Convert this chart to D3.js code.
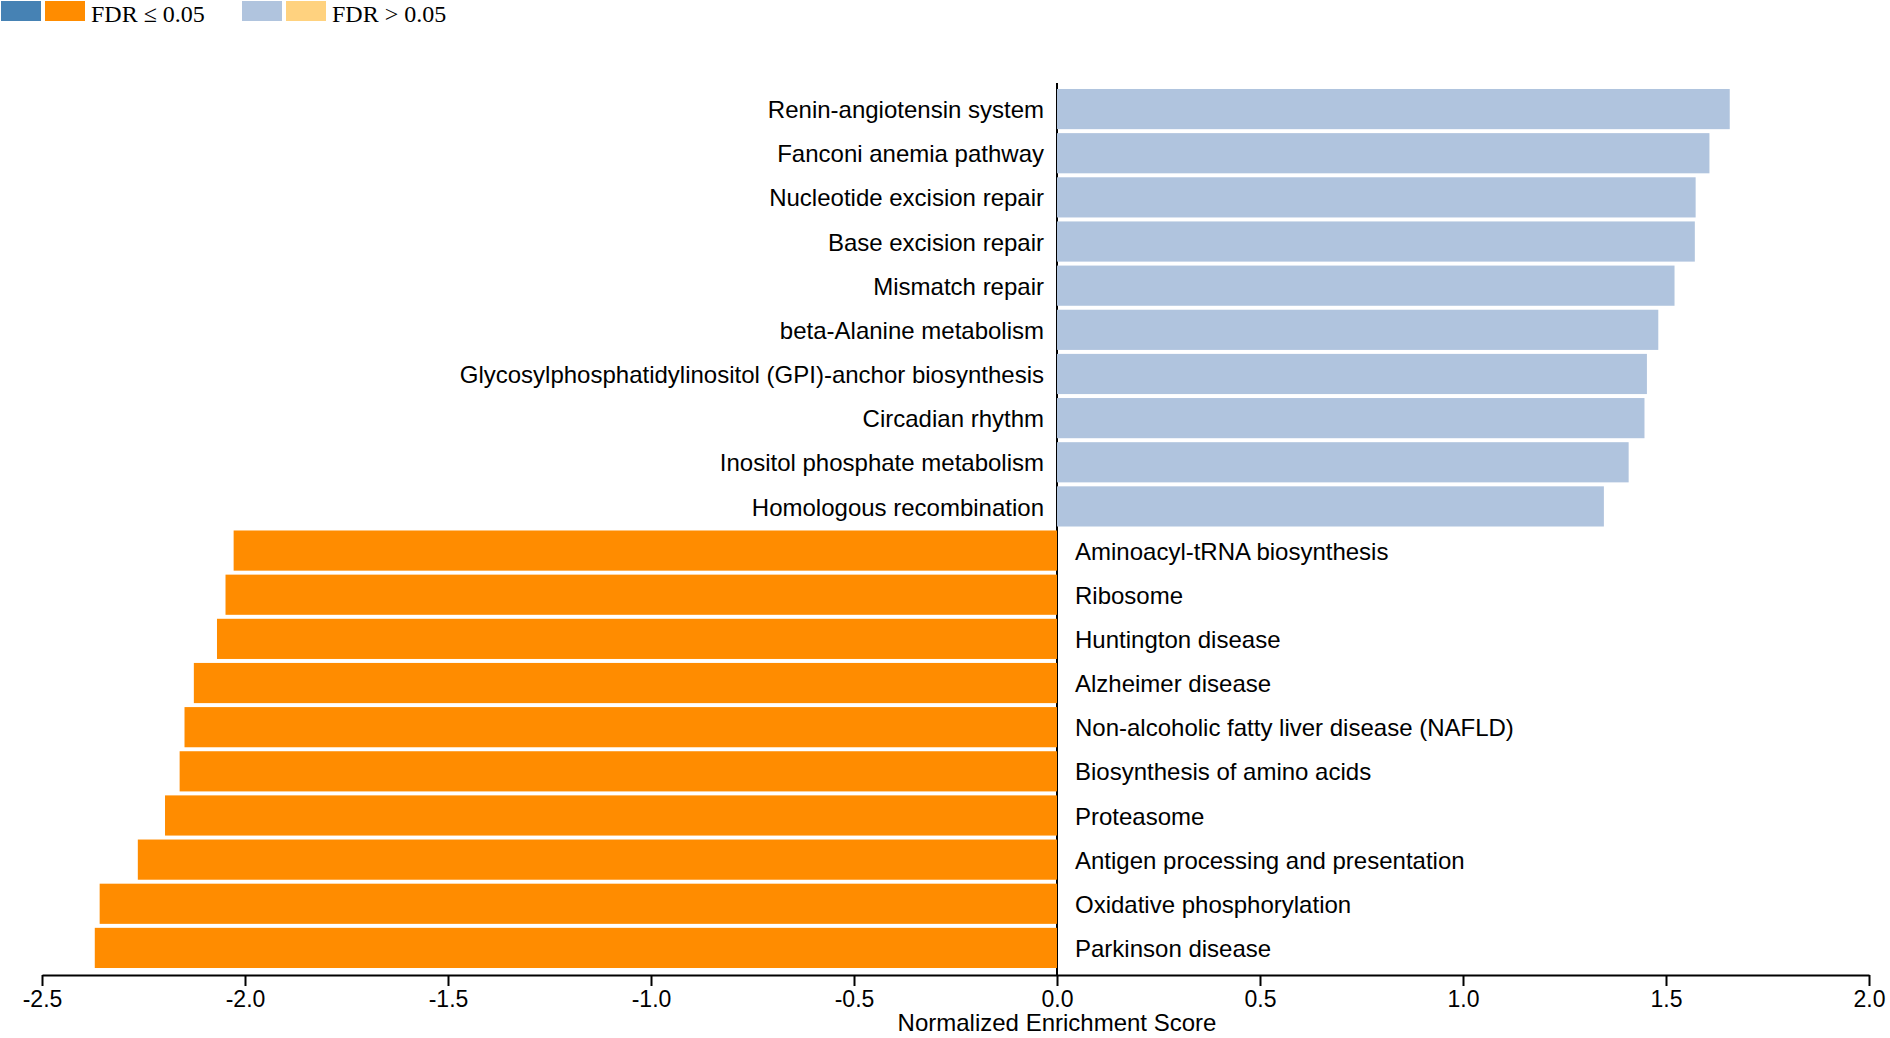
<!DOCTYPE html>
<html>
<head>
<meta charset="utf-8">
<script src="https://cdn.jsdelivr.net/npm/d3@7/dist/d3.min.js"></script>
<style>
  html, body { margin: 0; padding: 0; background: #fff; }
  svg { display: block; }
  .tick text { font-family: "Liberation Sans", Arial, sans-serif; }
</style>
</head>
<body>
<div id="chart"></div>
<script>
// pathways, top to bottom
var pathways = [
    "Renin-angiotensin system",
    "Fanconi anemia pathway",
    "Nucleotide excision repair",
    "Base excision repair",
    "Mismatch repair",
    "beta-Alanine metabolism",
    "Glycosylphosphatidylinositol (GPI)-anchor biosynthesis",
    "Circadian rhythm",
    "Inositol phosphate metabolism",
    "Homologous recombination",
    "Aminoacyl-tRNA biosynthesis",
    "Ribosome",
    "Huntington disease",
    "Alzheimer disease",
    "Non-alcoholic fatty liver disease (NAFLD)",
    "Biosynthesis of amino acids",
    "Proteasome",
    "Antigen processing and presentation",
    "Oxidative phosphorylation",
    "Parkinson disease"
];
var nes = [1.657, 1.607, 1.573, 1.571, 1.521, 1.481, 1.453, 1.447, 1.408, 1.347,
           -2.028, -2.048, -2.069, -2.126, -2.149, -2.161, -2.197, -2.264, -2.358, -2.370];
var significant = [false, false, false, false, false, false, false, false, false, false,
                   true, true, true, true, true, true, true, true, true, true];
var xTicks = [-2.5, -2.0, -1.5, -1.0, -0.5, 0.0, 0.5, 1.0, 1.5, 2.0];
var legendGroups = [
    {label: "FDR \u2264 0.05", colors: ["#4682b4", "#ff8c00"]},
    {label: "FDR > 0.05", colors: ["#b0c4de", "#ffd27f"]}
];

var elementWidth = 1890, elementHeight = 1038;
var margin = {left: 42, right: 21, top: 87, bottom: 68};

var data = pathways.map(function(p, i) {
    return {name: p, value: nes[i], sig: significant[i]};
});

function barColor(d) {
    if (d.value >= 0) return d.sig ? "#4682b4" : "#b0c4de";
    return d.sig ? "#ff8c00" : "#ffd27f";
}

var svg = d3.select("#chart").append("svg")
    .attr("width", elementWidth)
    .attr("height", elementHeight);

var x = d3.scaleLinear()
    .domain([-2.5, 2.0])
    .range([margin.left, elementWidth - margin.right]);

var y = d3.scaleBand()
    .domain(pathways)
    .range([margin.top, elementHeight - margin.bottom])
    .paddingInner(0.09)
    .paddingOuter(0.045);

var axisY = elementHeight - margin.bottom + 5;

// zero line (behind bars)
svg.append("line")
    .attr("x1", x(0)).attr("x2", x(0))
    .attr("y1", margin.top - 4).attr("y2", axisY)
    .attr("stroke", "#000")
    .attr("stroke-width", 2);

svg.append("g").selectAll("rect")
    .data(data)
    .enter().append("rect")
    .attr("x", function(d) { return x(Math.min(0, d.value)); })
    .attr("y", function(d) { return y(d.name); })
    .attr("width", function(d) { return Math.abs(x(d.value) - x(0)); })
    .attr("height", y.bandwidth())
    .attr("fill", barColor);

svg.append("g").selectAll("text")
    .data(data)
    .enter().append("text")
    .attr("x", function(d) { return d.value >= 0 ? x(0) - 13 : x(0) + 18; })
    .attr("y", function(d) { return y(d.name) + y.bandwidth() / 2; })
    .attr("dy", "0.38em")
    .attr("text-anchor", function(d) { return d.value >= 0 ? "end" : "start"; })
    .attr("font-family", "'Liberation Sans', Arial, sans-serif")
    .attr("font-size", 24)
    .attr("fill", "#000")
    .text(function(d) { return d.name; });

// x axis
var gx = svg.append("g")
    .attr("transform", "translate(0," + axisY + ")")
    .call(d3.axisBottom(x)
        .tickValues(xTicks)
        .tickSize(11)
        .tickSizeOuter(0)
        .tickPadding(5)
        .tickFormat(function(d) { return d.toFixed(1); }));
gx.select(".domain").attr("stroke-width", 2);
gx.selectAll(".tick line").attr("stroke-width", 2);
gx.selectAll(".tick text").attr("font-size", 23).attr("fill", "#000");

svg.append("text")
    .attr("x", x(0))
    .attr("y", elementHeight - 7)
    .attr("text-anchor", "middle")
    .attr("font-family", "'Liberation Sans', Arial, sans-serif")
    .attr("font-size", 24)
    .text("Normalized Enrichment Score");

// legend
var legend = svg.append("g").attr("transform", "translate(1,1)");
var lg = legend.selectAll("g")
    .data(legendGroups)
    .enter().append("g")
    .attr("transform", function(d, i) { return "translate(" + (i * 241) + ",0)"; });
lg.selectAll("rect")
    .data(function(d) { return d.colors; })
    .enter().append("rect")
    .attr("x", function(d, i) { return i * 44; })
    .attr("y", 0)
    .attr("width", 40)
    .attr("height", 20)
    .attr("fill", function(d) { return d; });
lg.append("text")
    .attr("x", 90)
    .attr("y", 21)
    .attr("font-family", "'Liberation Serif', 'Times New Roman', serif")
    .attr("font-size", 24)
    .text(function(d) { return d.label; });
</script>
</body>
</html>
